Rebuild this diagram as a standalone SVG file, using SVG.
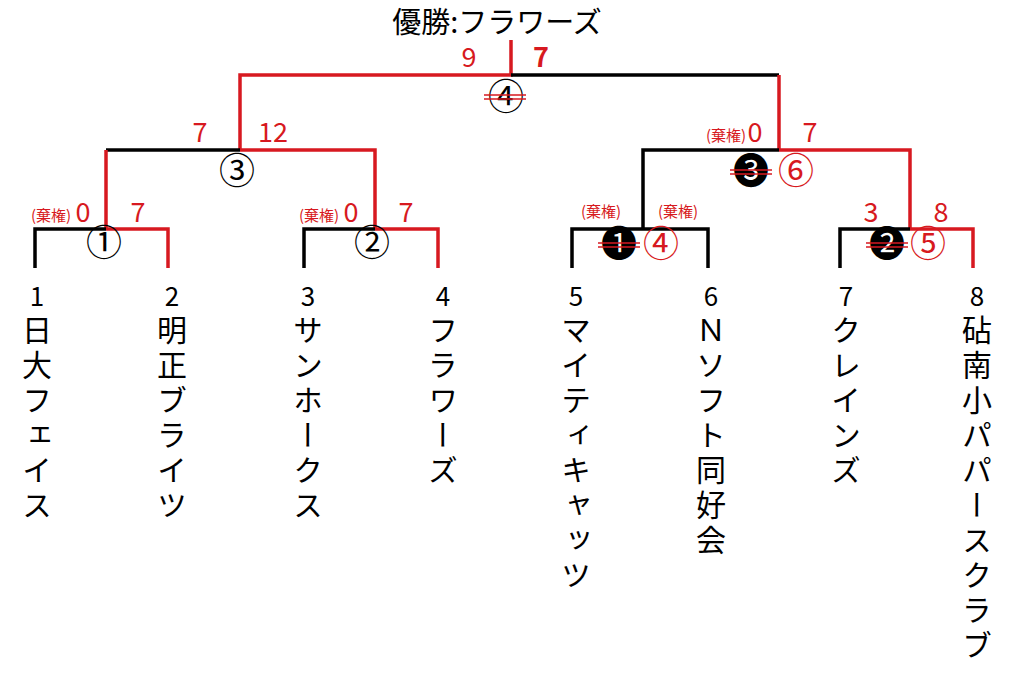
<svg xmlns="http://www.w3.org/2000/svg" width="1012" height="679" viewBox="0 0 1012 679">
<style>
text{font-family:"Noto Sans CJK JP","Noto Sans",sans-serif}
.k{stroke:#000;stroke-width:3.5;fill:none}
.r{stroke:#d71920;stroke-width:3.5;fill:none}
.s{fill:#d71920;font-size:27px;text-anchor:middle}
.a{fill:#d71920;font-size:15px;text-anchor:middle}
.c{font-size:36px;text-anchor:middle}
.n{font-size:26px;text-anchor:middle}
.v{font-size:30px;writing-mode:vertical-rl;letter-spacing:5px}
.st{stroke:#d71920;stroke-width:1.5}
</style>
<rect width="1012" height="679" fill="#fff"/>
<text x="497" y="33" font-size="29" text-anchor="middle">優勝:フラワーズ</text>
<g id="connectors">
<path class="r" d="M511 40V75H240V150"/>
<path class="k" d="M511 75H779"/>
<path class="r" d="M779 75V150"/>
<path class="k" d="M106 150H240"/>
<path class="r" d="M240 150H375V229"/>
<path class="r" d="M106 150V229"/>
<path class="k" d="M35 268V229H106"/>
<path class="r" d="M106 229H168V268"/>
<path class="k" d="M304 268V229H375"/>
<path class="r" d="M375 229H438V268"/>
<path class="k" d="M643 229V150H779"/>
<path class="r" d="M779 150H910V229"/>
<path class="k" d="M572 268V229H708V268"/>
<path class="k" d="M840 268V229H910"/>
<path class="r" d="M910 229H973V268"/>
</g>
<g id="scores">
<text class="s" x="469" y="67">9</text>
<text class="s" x="541" y="67" font-weight="bold">7</text>
<text class="s" x="200" y="142">7</text>
<text class="s" x="273" y="142">12</text>
<text class="a" x="726" y="141">(棄権)</text><text class="s" x="755" y="142">0</text>
<text class="s" x="810" y="142">7</text>
<text class="a" x="51" y="221">(棄権)</text><text class="s" x="83" y="222">0</text>
<text class="s" x="138" y="222">7</text>
<text class="a" x="319" y="221">(棄権)</text><text class="s" x="351" y="222">0</text>
<text class="s" x="406" y="222">7</text>
<text class="a" x="601" y="217">(棄権)</text>
<text class="a" x="678" y="217">(棄権)</text>
<text class="s" x="871" y="222">3</text>
<text class="s" x="941" y="222">8</text>
</g>
<g id="matches">
<text class="c" x="104" y="256">①</text>
<text class="c" x="372" y="256">②</text>
<text class="c" x="237" y="184">③</text>
<text class="c" x="506" y="110">④</text>
<line class="st" x1="484" y1="95" x2="526" y2="95"/><line class="st" x1="484" y1="99" x2="526" y2="99"/>
<text class="c" x="619" y="257">❶</text>
<line class="st" x1="598" y1="243" x2="640" y2="243"/><line class="st" x1="598" y1="247" x2="640" y2="247"/>
<text class="c" x="661" y="257" fill="#d71920">④</text>
<text class="c" x="751" y="184">❸</text>
<line class="st" x1="730" y1="170" x2="772" y2="170"/><line class="st" x1="730" y1="174" x2="772" y2="174"/>
<text class="c" x="796" y="184" fill="#d71920">⑥</text>
<text class="c" x="887" y="257">❷</text>
<line class="st" x1="866" y1="243" x2="908" y2="243"/><line class="st" x1="866" y1="247" x2="908" y2="247"/>
<text class="c" x="928" y="257" fill="#d71920">⑤</text>
</g>
<g id="teams">
<text class="n" x="37" y="306">1</text><text class="v" x="37" y="315">日大フェイス</text>
<text class="n" x="172" y="306">2</text><text class="v" x="172" y="315">明正ブライツ</text>
<text class="n" x="308" y="306">3</text><text class="v" x="308" y="315">サンホークス</text>
<text class="n" x="443" y="306">4</text><text class="v" x="443" y="315">フラワーズ</text>
<text class="n" x="576" y="306">5</text><text class="v" x="576" y="315">マイティキャッツ</text>
<text class="n" x="711" y="306">6</text><text class="v" x="711" y="315">Ｎソフト同好会</text>
<text class="n" x="846" y="306">7</text><text class="v" x="846" y="315">クレインズ</text>
<text class="n" x="977" y="306">8</text><text class="v" x="977" y="315">砧南小パパースクラブ</text>
</g>
</svg>
